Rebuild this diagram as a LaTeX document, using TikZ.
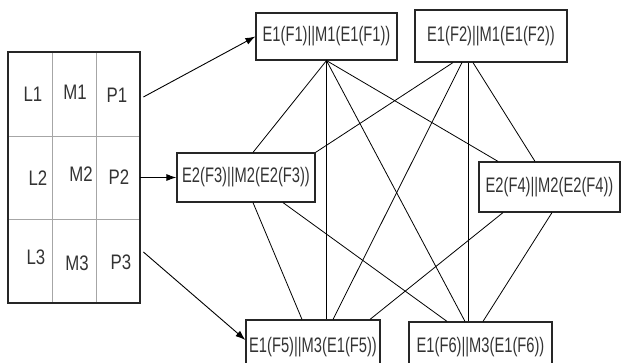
\documentclass[tikz,border=0pt]{standalone}
\usepackage{fontspec}
\setmainfont{Liberation Sans}
\newfontfamily\boxfont{Liberation Sans}[FakeStretch=0.7]
\newfontfamily\tabfont{Liberation Sans}[FakeStretch=0.8]
\usetikzlibrary{arrows.meta,calc}
\begin{document}
\begin{tikzpicture}[x=1pt,y=-1pt,
  box/.style={draw=black!85, line width=1.2pt, inner sep=0pt, font=\boxfont\fontsize{21}{21}\selectfont, text=black!80},
  cell/.style={draw=gray!70, line width=0.8pt, inner sep=0pt},
  outer/.style={draw=black!85, line width=1.3pt, inner sep=0pt},
  lab/.style={inner sep=0pt, font=\tabfont\fontsize{21}{21}\selectfont, text=black!80},
  link/.style={line width=0.8pt, black},
  arr/.style={line width=0.9pt, black, -{Latex[length=10pt,width=7pt]}}]
\useasboundingbox (0,0) rectangle (621,363);
\clip (0,0) rectangle (621,363);
% table cells
\foreach \c/\cx in {l/30,m/74,p/118}{
  \node[cell, minimum width=44, minimum height=84] (\c1) at (\cx,94) {};
  \node[cell, minimum width=44, minimum height=83] (\c2) at (\cx,177.5) {};
  \node[cell, minimum width=44, minimum height=84] (\c3) at (\cx,261) {};
}
\node[outer, minimum width=132, minimum height=251] (tbl) at (74,177.5) {};
% labels
\node[lab] (tl1) at (33,94) {L1};
\node[lab] (tm1) at (75,92) {M1};
\node[lab] (tp1) at (117,95) {P1};
\node[lab] (tl2) at (38,178) {L2};
\node[lab] (tm2) at (81,174) {M2};
\node[lab] (tp2) at (119,177) {P2};
\node[lab] (tl3) at (36,257) {L3};
\node[lab] (tm3) at (77,263) {M3};
\node[lab] (tp3) at (121,262) {P3};
% boxes
\node[box, minimum width=141, minimum height=47] (b1) at (326.5,36.5) {E1(F1)||M1(E1(F1))};
\node[box, minimum width=152, minimum height=52] (b2) at (491,36) {E1(F2)||M1(E1(F2))};
\node[box, minimum width=138, minimum height=49] (b3) at (246,177.5) {E2(F3)||M2(E2(F3))};
\node[box, minimum width=141, minimum height=50] (b4) at (549.5,187) {E2(F4)||M2(E2(F4))};
\node[box, minimum width=134, minimum height=54] (b5) at (313,347) {E1(F5)||M3(E1(F5))};
\node[box, minimum width=143, minimum height=50] (b6) at (480.5,347) {E1(F6)||M3(E1(F6))};
% arrows
\draw[arr] ([xshift=3pt,yshift=-3pt]p1.east) -- (b1.west);
\draw[arr] (p2.east) -- (b3.west);
\draw[arr] ([xshift=3pt,yshift=9pt]p3.east) -- ([yshift=7pt]b5.west);
% links from b1
\draw[link] (b1.south) -- ([xshift=7pt]b3.north);
\draw[link] (b1.south) -- (b1.south |- b5.north);
\draw[link] (b1.south) -- ([xshift=-15.5pt]b6.north);
\draw[link] (b1.south) -- ([xshift=-51.5pt]b4.north);
% links from b2
\draw[link] ([xshift=-38pt]b2.south) -- (b3.north east);
\draw[link] ([xshift=-29pt]b2.south) -- ([xshift=20pt]b5.north);
\draw[link] ([xshift=-23pt]b2.south) -- ([xshift=-23pt]b2.south |- b6.north);
\draw[link] ([xshift=-18pt]b2.south) -- ([xshift=-14.5pt]b4.north);
% links from b3
\draw[link] ([xshift=7pt]b3.south) -- ([xshift=-11pt]b5.north);
\draw[link] ([xshift=37pt]b3.south) -- ([xshift=-33.5pt]b6.north);
% links from b4
\draw[link] ([xshift=-46.5pt]b4.south) -- ([xshift=57pt]b5.north);
\draw[link] ([xshift=2.5pt]b4.south) -- ([xshift=2.5pt]b6.north);
\end{tikzpicture}
\end{document}
